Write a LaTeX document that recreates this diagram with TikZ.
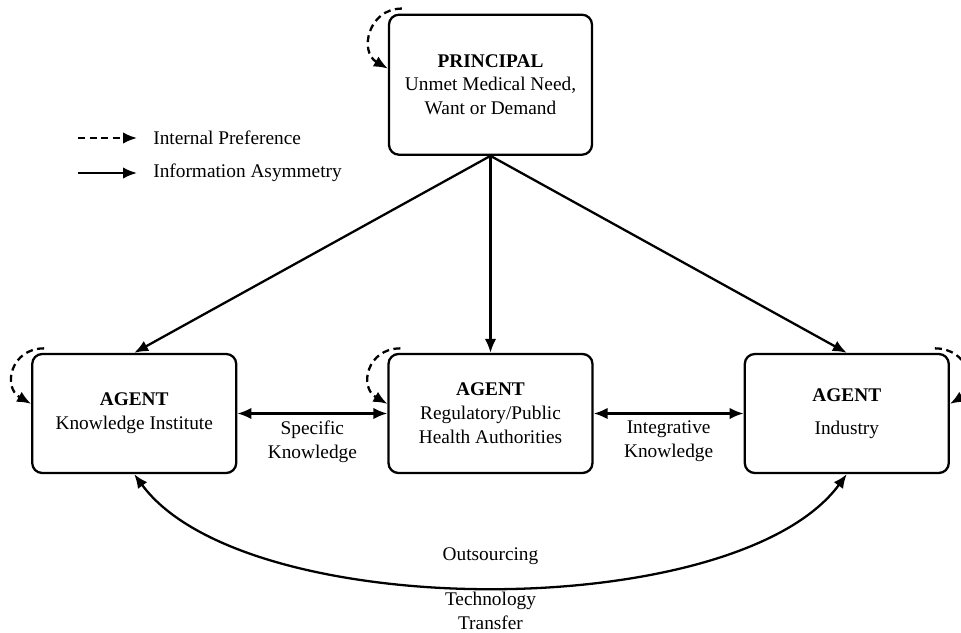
\documentclass[tikz,border=0pt]{standalone}
\usepackage{fontspec}
\setmainfont{Liberation Serif}
\usetikzlibrary{arrows.meta,positioning}

\begin{document}
\begin{tikzpicture}[
  node distance=3.94cm and 3cm,
  font=\fontsize{11}{13.6}\selectfont,
  actor/.style={rectangle, draw, line width=1.3pt, rounded corners=2mm, minimum width=4.08cm, minimum height=2.38cm, align=center},
  principal/.style={actor, minimum width=4.06cm, minimum height=2.8cm},
  lbl/.style={align=center},
  arr/.style={-{Latex[length=2.8mm,width=2.3mm]}, line width=1.3pt},
  darr/.style={{Latex[length=2.8mm,width=2.3mm]}-{Latex[length=2.8mm,width=2.3mm]}, line width=1.3pt},
  pref/.style={arr, dash pattern=on 1.4mm off 0.9mm}
]
  \useasboundingbox (0,0) rectangle (19.22,-12.64);

  % agents and principal
  \node[actor] (reg) at (9.81,-8.27) {\textbf{AGENT}\\Regulatory/Public\\Health Authorities};
  \node[actor, left=of reg] (ki) {\textbf{AGENT}\\Knowledge Institute};
  \node[actor, right=of reg] (ind) {\textbf{AGENT}\\[5pt]Industry};
  \node[principal, above=of reg] (pr) {\textbf{PRINCIPAL}\\Unmet Medical Need,\\Want or Demand};

  % legend
  \coordinate (lg1a) at (1.56,-2.76);
  \coordinate (lg1b) at (2.74,-2.76);
  \coordinate (lg2a) at (1.56,-3.46);
  \coordinate (lg2b) at (2.74,-3.46);
  \node[right=3.2mm of lg1b, inner sep=0pt] (lgpref) {Internal Preference};
  \node[right=3.2mm of lg2b, inner sep=0pt] (lginfo) {Information Asymmetry};
  \draw[pref] (lg1a) -- (lg1b);
  \draw[arr] (lg2a) -- (lg2b);

  % internal preferences
  \draw[pref] ([xshift=2.8mm,yshift=1mm]pr.north west) to[out=180,in=150,looseness=1.4] ([yshift=-11mm]pr.north west);
  \draw[pref] ([xshift=2.6mm,yshift=0.9mm]ki.north west) to[out=180,in=150,looseness=1.5] ([yshift=-10.2mm]ki.north west);
  \draw[pref] ([xshift=2.6mm,yshift=0.9mm]reg.north west) to[out=180,in=150,looseness=1.5] ([yshift=-10.2mm]reg.north west);
  \draw[pref] ([xshift=-3mm,yshift=0.9mm]ind.north east) to[out=0,in=30,looseness=1.5] ([yshift=-10.2mm]ind.north east);

  % information asymmetry
  \draw[arr] (pr.south) -- (ki.north);
  \draw[arr] (pr.south) -- (reg.north);
  \draw[arr] (pr.south) -- (ind.north);
  \draw[darr] (ki) -- node[lbl, below]{Specific\\Knowledge} (reg);
  \draw[darr] (reg) -- node[lbl, below]{Integrative\\Knowledge} (ind);
  \draw[darr] (ki.south) .. controls +(2.2,-3.0) and +(-2.2,-3.0) .. node[midway, above=3mm]{Outsourcing} node[lbl, midway, below=1.8pt, inner sep=0.5pt]{Technology\\Transfer} (ind.south);
\end{tikzpicture}
\end{document}
